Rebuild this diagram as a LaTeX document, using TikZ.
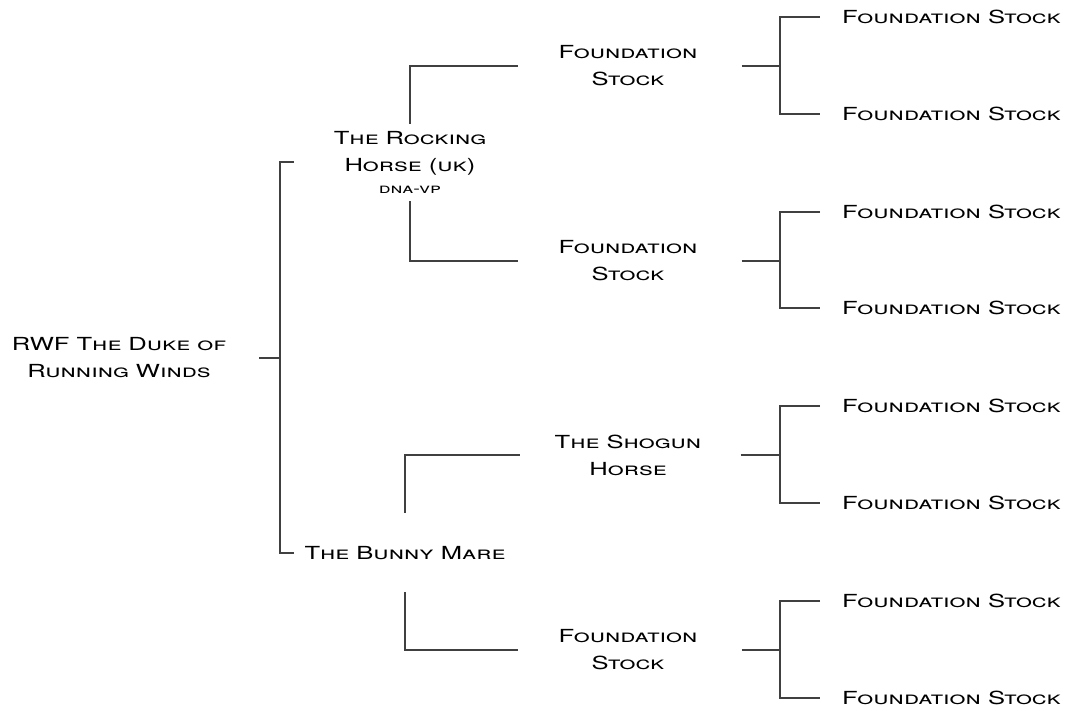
\documentclass[tikz,border=0pt]{standalone}
\usepackage{fontspec}
\setmainfont{TeX Gyre Heros}[FakeStretch=1.42]
\begin{document}
\begin{tikzpicture}[x=1pt,y=-1pt,
    horse/.style={font=\fontsize{18}{27}\selectfont\scshape, align=center, inner sep=0pt},
    link/.style={line width=1.1pt, color=black!75}]
  \useasboundingbox (0,0) rectangle (1067,711);

  % Horses
  \node[horse] (duke) at (119,358) {RWF The Duke of\\Running Winds};
  \node[horse] (rh) at (410,162) {The Rocking\\Horse (uk)\\[-5pt]{\fontsize{14}{14}\selectfont dna-vp}};
  \node[horse] (bm) at (405,553) {The Bunny Mare};
  \node[horse] (fsA) at (628,66) {Foundation\\Stock};
  \node[horse] (fsB) at (628,261) {Foundation\\Stock};
  \node[horse] (sh) at (628,455) {The Shogun\\Horse};
  \node[horse] (fsC) at (628,650) {Foundation\\Stock};
  \foreach \n/\ya/\yb in {fsA/17/114, fsB/212/308, sh/406/503, fsC/601/698}{
    \node[horse, anchor=west] (\n-a) at (842,\ya) {Foundation Stock};
    \node[horse, anchor=west] (\n-b) at (842,\yb) {Foundation Stock};
  }

  % Sire and dam
  \coordinate (j0) at (280,358);
  \draw[link, shorten <=33pt] (duke.east) -- (j0);
  \draw[link, shorten >=40pt] (j0) |- (rh.west);
  \draw[link, shorten >=10pt] (j0) |- (bm.west);

  % Grandparents
  \draw[link, shorten <=7pt, shorten >=40pt] (rh.north) |- (fsA.west);
  \draw[link, shorten <=8pt, shorten >=40pt] (rh.south) |- (fsB.west);
  \draw[link, shorten <=33pt, shorten >=35pt] (bm.north) |- (sh.west);
  \draw[link, shorten <=32pt, shorten >=40pt] (bm.south) |- (fsC.west);

  % Great-grandparents
  \foreach \n/\y/\s in {fsA/66/44, fsB/261/44, sh/455/39, fsC/650/44}{
    \draw[link, shorten <=\s pt] (\n.east) -- (780,\y) coordinate (\n-j);
    \draw[link, shorten <=22pt, shorten >=22pt] (\n-a.west) -| (\n-j) |- (\n-b.west);
  }
\end{tikzpicture}
\end{document}
